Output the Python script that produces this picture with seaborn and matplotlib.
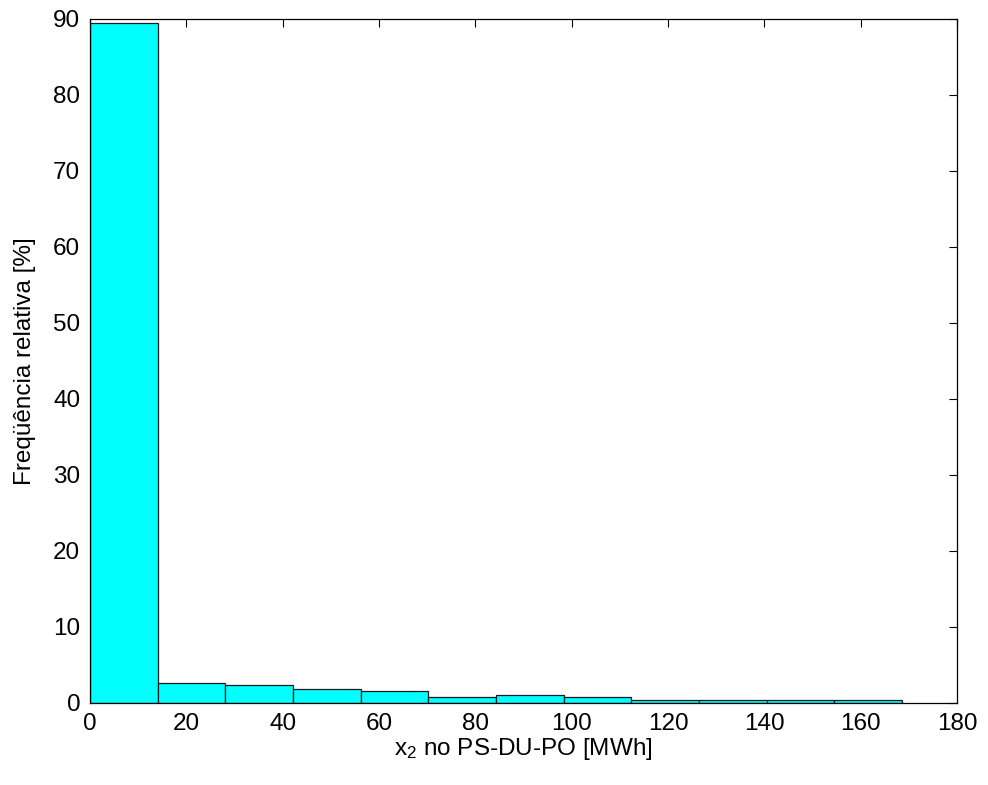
import numpy as np
import matplotlib
matplotlib.use("Agg")
import matplotlib.pyplot as plt
import seaborn as sns

# histogram (12 bins, width ~14 MWh)
bin_edges = [0.0, 14.05, 28.1, 42.15, 56.2, 70.25, 84.3, 98.35, 112.4, 126.45, 140.5, 154.55, 168.6]
freq_pct = [89.5, 2.63, 2.37, 1.89, 1.58, 0.83, 1.07, 0.79, 0.35, 0.35, 0.35, 0.35]

centers = [(a + b) / 2 for a, b in zip(bin_edges[:-1], bin_edges[1:])]

sns.set_style("white")
plt.rcParams['font.family'] = ['Liberation Sans', 'DejaVu Sans']
plt.rcParams['text.color'] = 'black'
plt.rcParams['axes.labelcolor'] = 'black'
plt.rcParams['mathtext.default'] = 'regular'

fig = plt.figure(figsize=(9.88, 7.85), dpi=100)
ax = fig.add_axes([0.091, 0.1045, 0.8776, 0.8713])

sns.histplot(x=centers, weights=freq_pct, bins=bin_edges, ax=ax,
             color='#00FFFF', alpha=1.0, edgecolor='#1a1a1a', linewidth=0.9)

ax.set_xlim(0, 180)
ax.set_ylim(0, 90)
ax.set_xticks(np.arange(0, 181, 20))
ax.set_yticks(np.arange(0, 91, 10))
ax.tick_params(direction='in', top=True, right=True, length=6, width=0.8,
               labelsize=17.5, pad=7, colors='black')
for s in ax.spines.values():
    s.set_color('black')
    s.set_linewidth(0.9)

ax.set_xlabel("x$_2$ no PS-DU-PO [MWh]", fontsize=17.5, labelpad=1)
ax.set_ylabel("Freqüência relativa [%]", fontsize=17.5, labelpad=12)

fig.savefig("out.png", dpi=100)
